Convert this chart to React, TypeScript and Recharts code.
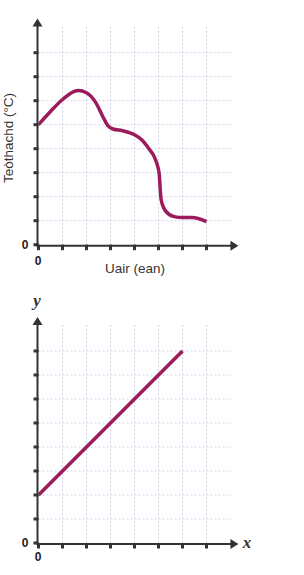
import React from "react";
import { LineChart, Line, XAxis, YAxis, ReferenceLine } from "recharts";

// top chart: temperature over time
const tempHours = [0, 0.5, 1, 1.65, 2, 2.4, 2.7, 2.9, 3.1, 3.5, 4, 4.3, 4.6, 4.82, 4.97, 5.03, 5.07, 5.1, 5.17, 5.3, 5.65, 6, 6.4, 7];
const tempValues = [5.0, 5.55, 6.05, 6.42, 6.33, 5.9, 5.3, 4.95, 4.82, 4.75, 4.58, 4.37, 4.0, 3.67, 3.25, 2.95, 2.35, 1.95, 1.65, 1.4, 1.17, 1.13, 1.13, 0.96];

// bottom chart: straight line
const lineX = [0, 6];
const lineY = [2, 8];

const xTicks = [0, 1, 2, 3, 4, 5, 6, 7];
const yTicks = [0, 1, 2, 3, 4, 5, 6, 7, 8];
const gridX = [1, 2, 3, 4, 5, 6, 7];
const gridY = [1, 2, 3, 4, 5, 6, 7, 8];

const X_MAX = 8.33;
const Y_MAX = 9.42;
const GRID_RIGHT = 8.05;
const GRID_TOP = 9.12;

const INK = "#333";
const PLUM = "#9b1b5b";
const GRID = "#d4d2e8";
const SANS = "'Liberation Sans', Arial, sans-serif";

const AxisArrow = (props: any) => {
  const { x1, y1, x2, y2, title, letter } = props;
  const horizontal = Math.abs(x2 - x1) > Math.abs(y2 - y1);
  if (horizontal) {
    const y = y1 + 1;
    return (
      <g>
        <line x1={x1 - 2} y1={y} x2={x2 - 6} y2={y} stroke={INK} strokeWidth={2} />
        <polygon points={`${x2},${y} ${x2 - 8},${y - 5} ${x2 - 8},${y + 5}`} fill={INK} />
        {title && (
          <text x={x1 + 96.5} y={y1 + 28} textAnchor="middle" fontFamily={SANS} fontSize={13.5} fill={INK}>
            {title}
          </text>
        )}
        {letter && (
          <text x={x2 + 4.3} y={y1 + 5.3} fontFamily="'Liberation Serif', serif" fontStyle="italic" fontWeight="bold" fontSize={17} fill={INK}>
            {letter}
          </text>
        )}
      </g>
    );
  }
  const x = x1 - 1;
  return (
    <g>
      <line x1={x} y1={y1 + 2} x2={x} y2={y2 + 6} stroke={INK} strokeWidth={2} />
      <polygon points={`${x},${y2} ${x - 5},${y2 + 8} ${x + 5},${y2 + 8}`} fill={INK} />
      {title && (
        <text
          x={x1 - 25.5}
          y={y1 - 106.7}
          transform={`rotate(-90 ${x1 - 25.5} ${y1 - 106.7})`}
          textAnchor="middle"
          fontFamily={SANS}
          fontSize={13.5}
          fill={INK}
        >
          {title}
        </text>
      )}
      {letter && (
        <text x={x - 0.5} y={y2 - 10.6} textAnchor="middle" fontFamily="'Liberation Serif', serif" fontStyle="italic" fontWeight="bold" fontSize={17} fill={INK}>
          {letter}
        </text>
      )}
    </g>
  );
};

const BottomZero = (props: any) => {
  const { x, y, payload, dy } = props;
  if (payload.value !== 0) return <g />;
  return (
    <text x={x - 0.5} y={y + dy} textAnchor="middle" fontFamily={SANS} fontWeight="bold" fontSize={12} fill="#222">
      0
    </text>
  );
};

const LeftZero = (props: any) => {
  const { x, y, payload } = props;
  if (payload.value !== 0) return <g />;
  return (
    <text x={x - 5} y={y + 4.3} textAnchor="end" fontFamily={SANS} fontWeight="bold" fontSize={12} fill="#222">
      0
    </text>
  );
};

interface GraphProps {
  data: { x: number; y: number }[];
  height: number;
  originY: number;
  curved: boolean;
  xTitle?: string;
  yTitle?: string;
  xLetter?: string;
  yLetter?: string;
  zeroDy: number;
}

const Graph = ({ data, height, originY, curved, xTitle, yTitle, xLetter, yLetter, zeroDy }: GraphProps) => {
  const unit = 24;
  const originX = 38.5;
  const top = originY - Y_MAX * unit;
  const right = 304 - originX - X_MAX * unit;
  return (
    <LineChart
      width={304}
      height={height}
      data={data}
      margin={{ top, right, left: originX - 30, bottom: height - originY - 20 }}
    >
      <XAxis
        type="number"
        dataKey="x"
        domain={[0, X_MAX]}
        allowDataOverflow
        ticks={xTicks}
        height={20}
        axisLine={false}
        tickSize={5.5}
        tickMargin={0}
        tickLine={{ stroke: INK, strokeWidth: 3 }}
        tick={<BottomZero dy={zeroDy} />}
      />
      <YAxis
        type="number"
        dataKey="y"
        domain={[0, Y_MAX]}
        allowDataOverflow
        ticks={yTicks}
        width={30}
        axisLine={false}
        tickSize={5}
        tickMargin={0}
        tickLine={{ stroke: INK, strokeWidth: 3 }}
        tick={<LeftZero />}
      />
      {gridY.map((g) => (
        <ReferenceLine
          key={`gy-${g}`}
          segment={[{ x: 0, y: g }, { x: GRID_RIGHT, y: g }]}
          stroke={GRID}
          strokeWidth={1}
          strokeDasharray="2 2"
          ifOverflow="visible"
        />
      ))}
      {gridX.map((g) => (
        <ReferenceLine
          key={`gx-${g}`}
          segment={[{ x: g, y: 0 }, { x: g, y: GRID_TOP }]}
          stroke={GRID}
          strokeWidth={1}
          strokeDasharray="2 2"
          ifOverflow="visible"
        />
      ))}
      <Line
        type={curved ? "monotone" : "linear"}
        dataKey="y"
        stroke={PLUM}
        strokeWidth={3.5}
        dot={false}
        activeDot={false}
        isAnimationActive={false}
      />
      <ReferenceLine
        segment={[{ x: 0, y: 0 }, { x: X_MAX, y: 0 }]}
        ifOverflow="visible"
        shape={(p: any) => <AxisArrow {...p} title={xTitle} letter={xLetter} />}
      />
      <ReferenceLine
        segment={[{ x: 0, y: 0 }, { x: 0, y: Y_MAX }]}
        ifOverflow="visible"
        shape={(p: any) => <AxisArrow {...p} title={yTitle} letter={yLetter} />}
      />
    </LineChart>
  );
};

export default function App() {
  const tempData = tempHours.map((x, i) => ({ x, y: tempValues[i] }));
  const lineData = lineX.map((x, i) => ({ x, y: lineY[i] }));
  return (
    <div style={{ position: "absolute", left: 0, top: 0, width: 304, height: 575, background: "#fff" }}>
      <Graph
        data={tempData}
        height={290}
        originY={244.7}
        curved
        xTitle="Uair (ean)"
        yTitle="Teòthachd (°C)"
        zeroDy={14.3}
      />
      <Graph data={lineData} height={285} originY={253} curved={false} xLetter="x" yLetter="y" zeroDy={12} />
    </div>
  );
}
